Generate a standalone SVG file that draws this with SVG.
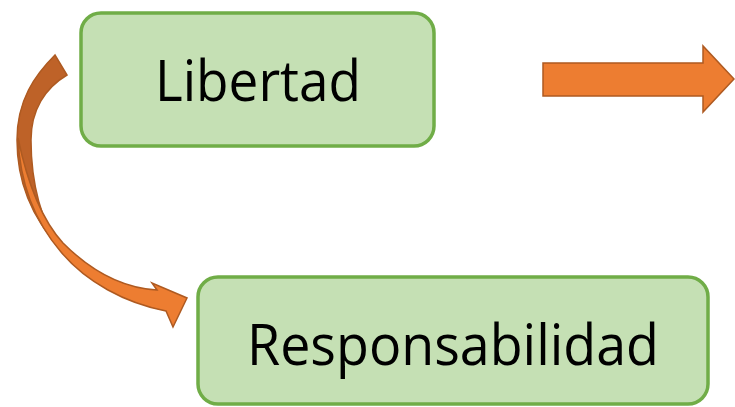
<svg xmlns="http://www.w3.org/2000/svg" width="735" height="407" viewBox="0 0 735 407">
  <style>
    .box { fill: #C5E0B4; stroke: #70AD47; stroke-width: 3.5; }
    .lbl { font-family: "Open Sans", "Liberation Sans", sans-serif; font-size: 57px; fill: #000; text-anchor: middle; }
    .arr { fill: #ED7D31; stroke: #AE5A21; stroke-width: 1.5; stroke-linejoin: miter; }
    .arrDark { fill: #BE6228; stroke: #AE5A21; stroke-width: 1.5; }
  </style>
  <rect width="735" height="407" fill="#FFFFFF"/>
  <g id="connectors">
    <path class="arrDark" d="M55,55 C35,75 17,100 17,140 C17,182 32,218 60,248 C42,224 31,184 31,140 C31,110 45,88 67,75 Z"/>
    <path class="arr" d="M18,138 C20,188 37,224 61,252 C86,282 125,303 166,311 L173,327 L187,298 L152,283 L157,290 C120,288 88,268 63,243 C42,220 28,186 18,138 Z"/>
    <path class="arr" d="M543,63 L703,63 L703,46 L734,79 L703,112 L703,96 L543,96 Z"/>
  </g>
  <g id="node-libertad">
    <rect class="box" x="81" y="13" width="353" height="133" rx="20" ry="20"/>
    <text class="lbl" x="258" y="101" textLength="206" lengthAdjust="spacingAndGlyphs">Libertad</text>
  </g>
  <g id="node-responsabilidad">
    <rect class="box" x="198" y="277" width="510" height="127" rx="20" ry="20"/>
    <text class="lbl" x="453" y="365" textLength="412" lengthAdjust="spacingAndGlyphs">Responsabilidad</text>
  </g>
</svg>
